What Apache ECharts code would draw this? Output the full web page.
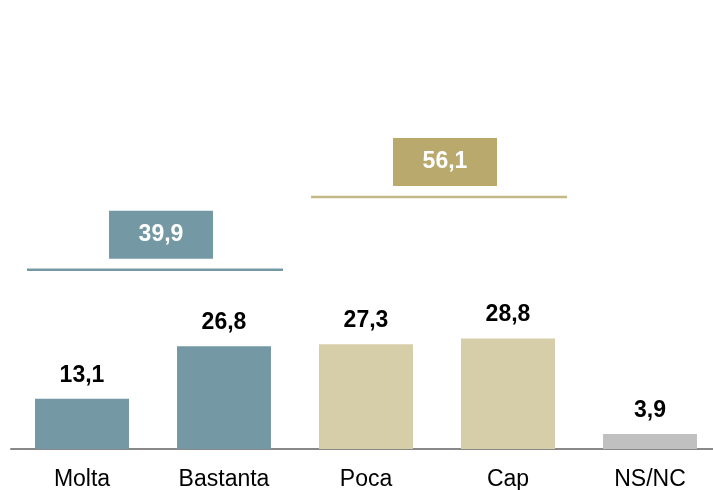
<!DOCTYPE html>
<html>
<head>
<meta charset="utf-8">
<script src="https://cdn.jsdelivr.net/npm/echarts@6/dist/echarts.min.js"></script>
<style>html,body{margin:0;padding:0;background:#fff}#c{width:713px;height:490px}</style>
</head>
<body>
<div id="c"></div>
<script>
var categories = ['Molta', 'Bastanta', 'Poca', 'Cap', 'NS/NC'];
var values = [13.1, 26.8, 27.3, 28.8, 3.9];
var barColors = ['#7599a4', '#7599a4', '#d6cea8', '#d6cea8', '#c0c0c0'];
// groups: [first category index, last category index, total]
var groups = [[0, 1, 39.9], [2, 3, 56.1]];
var groupColors = ['#7599a4', '#b9a96d'];
var groupLineColors = ['#7599a4', '#c4b887'];

function fmt(v) { return String(v).replace('.', ','); }

var FONT = 'Liberation Sans, Arial, sans-serif';
var chart = echarts.init(document.getElementById('c'));
chart.setOption({
  animation: false,
  grid: { left: 11, width: 710, top: 0, bottom: 41, containLabel: false, outerBoundsMode: 'none' },
  xAxis: {
    type: 'category',
    data: categories,
    axisLine: { lineStyle: { color: '#888888', width: 2 } },
    axisTick: { show: false },
    axisLabel: { color: '#000', fontSize: 23, fontFamily: FONT, margin: 19 }
  },
  yAxis: { type: 'value', min: 0, max: 117, show: false, splitLine: { show: false } },
  series: [
    {
      type: 'bar',
      barWidth: 94,
      data: values.map(function (v, i) { return { value: v, itemStyle: { color: barColors[i] } }; }),
      label: {
        show: true, position: 'top', distance: 12,
        formatter: function (p) { return fmt(p.value); },
        color: '#000', fontSize: 23, fontWeight: 'bold', fontFamily: FONT
      }
    },
    {
      type: 'custom',
      z: 5,
      clip: false,
      data: groups,
      renderItem: function (params, api) {
        var s = api.value(0), e = api.value(1), tot = api.value(2);
        var band = api.size([1, 0])[0];
        var ly = api.coord([s, tot * 1.17])[1];
        var x1 = api.coord([s, 0])[0] - band / 2 + 16;
        var x2 = api.coord([e, 0])[0] + band / 2 - 12;
        var cx = (api.coord([s, 0])[0] + api.coord([e, 0])[0]) / 2 + 8;
        var i = params.dataIndex;
        var bw = 104, bh = 48;
        return {
          type: 'group',
          children: [
            { type: 'line', shape: { x1: x1, y1: ly, x2: x2, y2: ly }, style: { stroke: groupLineColors[i], lineWidth: 2.5 } },
            { type: 'rect', shape: { x: cx - bw / 2, y: ly - 11 - bh, width: bw, height: bh }, style: { fill: groupColors[i] } },
            { type: 'text', style: { x: cx, y: ly - 11 - bh / 2, text: fmt(tot), fill: '#fff', fontSize: 23, fontWeight: 'bold', fontFamily: FONT, align: 'center', verticalAlign: 'middle' } }
          ]
        };
      }
    }
  ]
});
</script>
</body>
</html>
